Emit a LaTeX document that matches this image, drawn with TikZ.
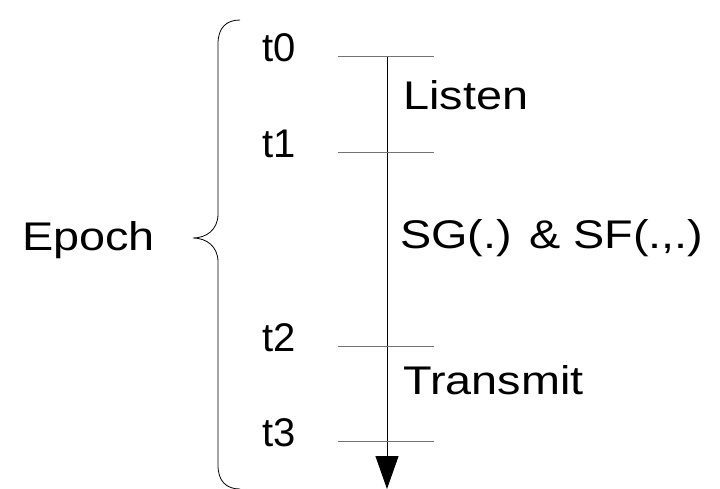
\documentclass[tikz,border=0pt]{standalone}
\usepackage{fontspec}
\setmainfont{Liberation Sans}
\newfontfamily\widefont[FakeStretch=1.17]{Liberation Sans}
\usetikzlibrary{arrows.meta}

\begin{document}
\begin{tikzpicture}[x=1pt,y=-1pt,
    lbl/.style={font=\fontsize{40}{48}\selectfont,inner sep=0pt,anchor=base west},
    phase/.style={lbl,font=\widefont\fontsize{40}{48}\selectfont},
    tick/.style={draw=black!55,line width=1pt},
    axis/.style={line width=1pt,-{Triangle[width=23pt,length=33pt]}},
    brace/.style={line width=0.8pt}]
  \useasboundingbox (0,0) rectangle (720,489);

  % time axis
  \coordinate (top) at (387,57);
  \coordinate (bot) at (387,489);
  \draw[axis] (top) -- (bot);

  % instants t0..t3
  \foreach \i/\y in {0/57,1/153,2/346,3/441}{
    \coordinate (l\i) at (338,\y);
    \coordinate (r\i) at (434,\y);
    \draw[tick] (l\i) -- (r\i);
    \node[lbl] (t\i) at (262,\y+5) {t\i};
  }

  % phases
  \node[phase] (listen) at (403,110) {Listen};
  \node[phase] (sgsf) at (400,248) {SG(.) \& SF(.,.)};
  \node[phase] (transmit) at (403,394) {Transmit};

  % epoch brace
  \coordinate (bt) at (240,20);
  \coordinate (bm) at (193,238);
  \coordinate (bb) at (240,489);
  \draw[brace] (bt) .. controls (226,20) and (218,28) .. (218,44)
    -- (218,214) .. controls (218,230) and (206,238) .. (bm)
    .. controls (206,238) and (218,246) .. (218,262)
    -- (218,465) .. controls (218,481) and (226,489) .. (bb);
  \node[phase] (epoch) at (22,251) {Epoch};
\end{tikzpicture}
\end{document}
